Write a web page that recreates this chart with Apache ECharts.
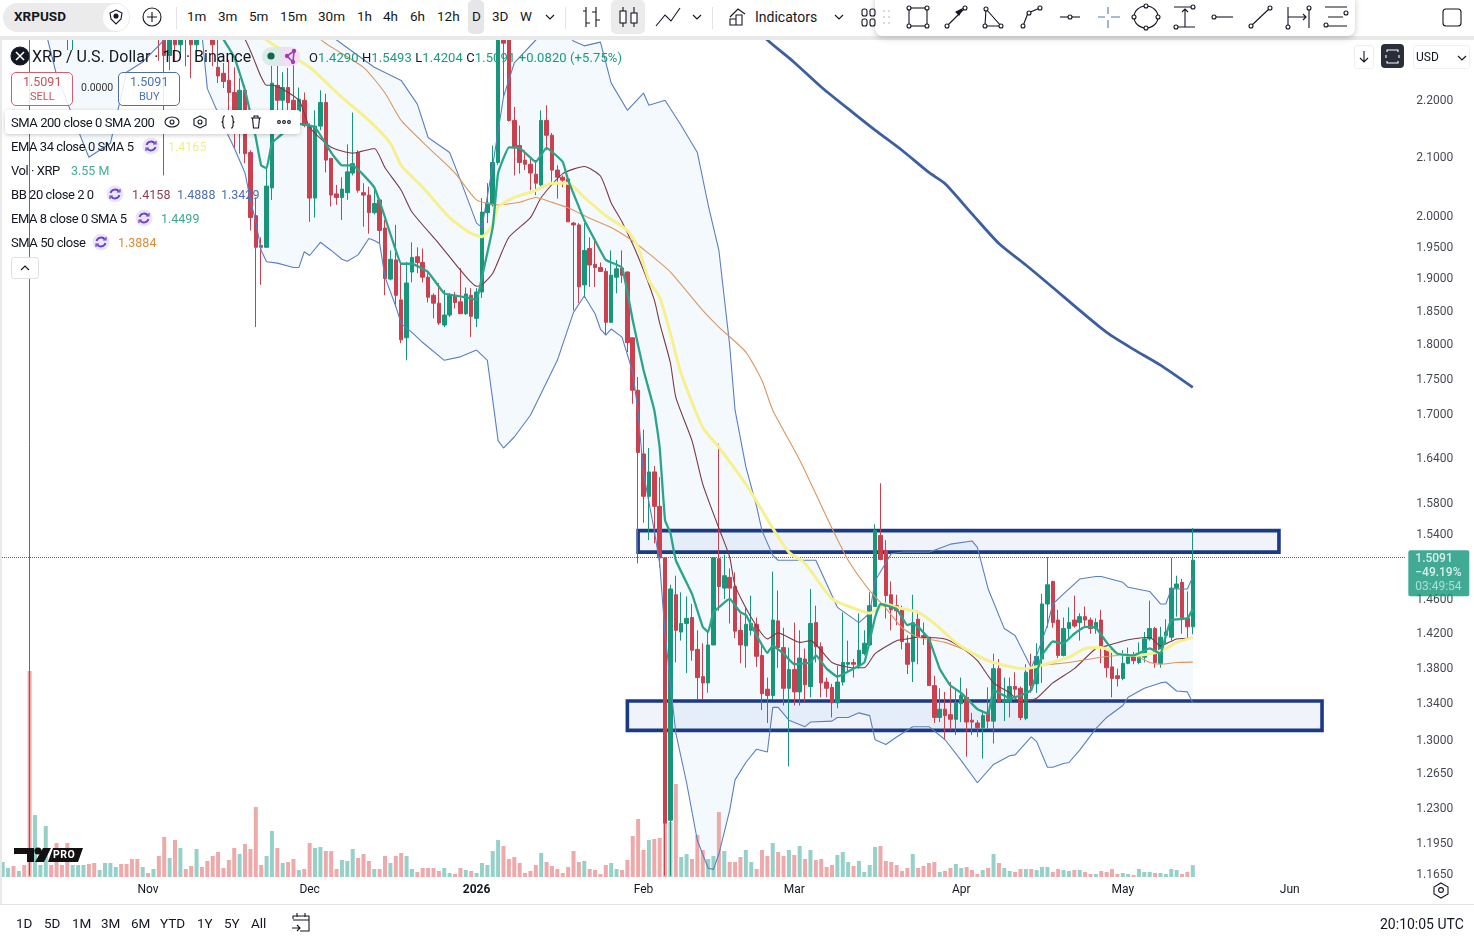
<!DOCTYPE html>
<html><head><meta charset="utf-8"><title>XRPUSD</title>
<script src="https://cdn.jsdelivr.net/npm/echarts@6/dist/echarts.min.js"></script>
<style>
html,body{margin:0;padding:0;background:#fff;overflow:hidden;font-family:Roboto,"Noto Sans",sans-serif;color:#131722}
#c{position:absolute;left:0;top:0;width:1474px;height:938px}
#ui{position:absolute;left:0;top:0;width:1474px;height:938px;pointer-events:none}
#ui div{position:absolute;box-sizing:border-box}
#ui .t{white-space:nowrap;transform:translateY(-50%);line-height:1}
#ui svg{position:absolute;left:0;top:0}
</style></head><body>
<div id="c"></div><div id="ui"></div>
<script>
// ---- data ----
const startDate = '2025-10-05';
const dayCount = 261;
// [open, high, low, close]
const ohlc = [
[2.96,3.05,2.93,3.02],[3.02,3.06,2.95,3.03],[3.03,3.05,2.86,2.90],[2.84,2.92,2.80,2.86],[2.86,2.90,2.78,2.80],[2.80,2.85,1.166,2.36],[2.38,2.54,2.34,2.50],[2.50,2.60,2.46,2.56],[2.43,2.60,2.40,2.55],[2.56,2.58,2.42,2.46],
[2.46,2.50,2.33,2.37],[2.37,2.40,2.33,2.35],[2.40,2.45,2.29,2.34],[2.34,2.46,2.29,2.40],[2.40,2.50,2.38,2.46],[2.46,2.52,2.40,2.50],[2.50,2.52,2.40,2.42],[2.42,2.46,2.36,2.40],[2.40,2.47,2.37,2.44],[2.44,2.55,2.42,2.50],
[2.50,2.64,2.48,2.60],[2.60,2.70,2.57,2.64],[2.64,2.68,2.58,2.62],[2.62,2.66,2.55,2.60],[2.60,2.66,2.50,2.57],[2.57,2.62,2.48,2.52],[2.52,2.58,2.48,2.54],[2.54,2.56,2.48,2.50],[2.50,2.54,2.44,2.52],[2.52,2.54,2.27,2.34],
[2.34,2.38,2.067,2.28],[2.28,2.36,2.253,2.33],[2.33,2.37,2.27,2.30],[2.30,2.46,2.285,2.42],[2.42,2.44,2.26,2.33],[2.33,2.40,2.238,2.30],[2.30,2.42,2.27,2.38],[2.38,2.40,2.32,2.33],[2.36,2.42,2.32,2.34],[2.34,2.36,2.26,2.30],
[2.258,2.33,2.229,2.242],[2.247,2.266,2.220,2.232],[2.234,2.272,2.180,2.212],[2.212,2.258,2.114,2.180],[2.148,2.238,2.104,2.216],[2.216,2.225,2.088,2.104],[2.106,2.110,1.976,1.997],[2.000,2.030,1.826,1.949],[1.952,1.965,1.890,1.949],[1.949,2.082,1.949,2.049],
[2.046,2.285,2.026,2.229],[2.225,2.266,2.180,2.198],[2.198,2.249,2.180,2.221],[2.221,2.257,2.180,2.194],[2.198,2.266,2.171,2.180],[2.178,2.221,2.157,2.200],[2.198,2.212,2.150,2.153],[2.153,2.157,1.990,2.029],[2.029,2.180,1.997,2.152],[2.152,2.216,2.145,2.194],
[2.194,2.210,2.072,2.093],[2.096,2.096,2.015,2.034],[2.036,2.051,2.018,2.030],[2.030,2.064,1.993,2.044],[2.038,2.120,2.026,2.073],[2.071,2.176,2.067,2.087],[2.106,2.110,2.038,2.042],[2.038,2.054,1.982,2.034],[2.034,2.048,1.971,2.005],[2.005,2.045,2.002,2.020],
[2.026,2.029,1.955,1.976],[1.980,1.993,1.874,1.900],[1.899,1.944,1.897,1.930],[1.929,1.985,1.856,1.874],[1.867,1.926,1.802,1.807],[1.810,1.926,1.777,1.893],[1.910,1.957,1.894,1.933],[1.934,1.949,1.908,1.925],[1.925,1.947,1.894,1.902],[1.902,1.908,1.863,1.871],
[1.874,1.877,1.839,1.862],[1.862,1.893,1.829,1.832],[1.829,1.882,1.826,1.844],[1.844,1.877,1.841,1.874],[1.874,1.879,1.854,1.863],[1.864,1.916,1.846,1.846],[1.846,1.886,1.844,1.876],[1.874,1.885,1.811,1.842],[1.839,1.885,1.826,1.879],[1.879,2.029,1.870,2.006],
[2.005,2.054,1.988,2.021],[2.018,2.118,2.015,2.089],[2.089,2.42,2.085,2.36],[2.36,2.42,2.202,2.303],[2.33,2.37,2.16,2.162],[2.162,2.186,2.067,2.114],[2.118,2.153,2.070,2.089],[2.093,2.110,2.076,2.086],[2.086,2.096,2.042,2.071],[2.069,2.093,2.034,2.054],
[2.051,2.180,2.048,2.162],[2.162,2.189,2.110,2.136],[2.136,2.140,2.055,2.076],[2.076,2.084,2.028,2.064],[2.064,2.067,2.047,2.059],[2.061,2.063,1.990,1.990],[1.988,1.990,1.851,1.985],[1.985,1.988,1.862,1.887],[1.890,1.988,1.870,1.944],[1.947,1.965,1.887,1.921],
[1.922,1.963,1.887,1.917],[1.917,1.925,1.910,1.911],[1.911,1.916,1.814,1.833],[1.833,1.944,1.832,1.905],[1.902,1.929,1.877,1.915],[1.916,1.944,1.893,1.905],[1.910,1.911,1.789,1.803],[1.810,1.810,1.715,1.734],[1.734,1.753,1.505,1.648],[1.646,1.679,1.556,1.590],
[1.590,1.654,1.534,1.622],[1.622,1.630,1.530,1.577],[1.577,1.615,1.500,1.512],[1.512,1.512,1.166,1.217],[1.220,1.479,1.166,1.474],[1.467,1.490,1.388,1.425],[1.423,1.470,1.413,1.433],[1.433,1.465,1.376,1.439],[1.440,1.456,1.390,1.402],[1.403,1.425,1.347,1.371],
[1.372,1.410,1.347,1.365],[1.365,1.425,1.354,1.408],[1.408,1.513,1.408,1.512],[1.511,1.660,1.448,1.477],[1.475,1.516,1.462,1.490],[1.488,1.499,1.433,1.475],[1.477,1.494,1.416,1.424],[1.425,1.444,1.387,1.408],[1.407,1.451,1.382,1.432],[1.425,1.466,1.419,1.433],
[1.432,1.440,1.383,1.395],[1.396,1.408,1.335,1.353],[1.358,1.371,1.321,1.351],[1.351,1.495,1.346,1.437],[1.436,1.472,1.382,1.405],[1.405,1.428,1.340,1.359],[1.359,1.405,1.275,1.380],[1.380,1.434,1.340,1.355],[1.355,1.425,1.340,1.393],[1.392,1.404,1.344,1.363],
[1.361,1.474,1.349,1.433],[1.434,1.454,1.388,1.406],[1.406,1.411,1.349,1.365],[1.366,1.371,1.349,1.359],[1.360,1.364,1.327,1.343],[1.343,1.384,1.337,1.366],[1.366,1.446,1.362,1.388],[1.386,1.413,1.376,1.388],[1.388,1.392,1.371,1.386],[1.384,1.445,1.381,1.402],
[1.398,1.425,1.396,1.410],[1.408,1.470,1.407,1.454],[1.453,1.554,1.453,1.546],[1.540,1.607,1.509,1.510],[1.521,1.534,1.439,1.466],[1.467,1.483,1.425,1.449],[1.454,1.467,1.431,1.448],[1.449,1.454,1.403,1.412],[1.410,1.419,1.375,1.386],[1.389,1.467,1.366,1.434],
[1.438,1.448,1.386,1.417],[1.419,1.434,1.408,1.417],[1.417,1.417,1.362,1.362],[1.362,1.373,1.321,1.327],[1.327,1.359,1.322,1.336],[1.336,1.355,1.303,1.329],[1.330,1.366,1.313,1.325],[1.325,1.359,1.308,1.343],[1.342,1.371,1.322,1.351],[1.349,1.359,1.285,1.322],
[1.324,1.332,1.308,1.322],[1.321,1.324,1.306,1.316],[1.316,1.335,1.283,1.329],[1.333,1.360,1.315,1.323],[1.323,1.398,1.299,1.381],[1.381,1.392,1.343,1.344],[1.344,1.371,1.323,1.346],[1.344,1.371,1.327,1.361],[1.361,1.377,1.349,1.358],[1.359,1.361,1.324,1.327],
[1.326,1.386,1.324,1.377],[1.381,1.398,1.354,1.362],[1.364,1.410,1.354,1.395],[1.392,1.468,1.365,1.456],[1.456,1.513,1.428,1.479],[1.483,1.484,1.428,1.434],[1.437,1.449,1.393,1.396],[1.396,1.440,1.395,1.427],[1.427,1.452,1.416,1.434],[1.437,1.466,1.428,1.430],
[1.434,1.445,1.413,1.441],[1.441,1.453,1.428,1.437],[1.437,1.440,1.421,1.427],[1.427,1.439,1.421,1.434],[1.437,1.449,1.387,1.404],[1.403,1.404,1.371,1.382],[1.383,1.404,1.349,1.370],[1.373,1.381,1.361,1.370],[1.370,1.402,1.368,1.387],[1.387,1.405,1.386,1.395],
[1.397,1.400,1.386,1.390],[1.388,1.411,1.386,1.398],[1.394,1.423,1.388,1.415],[1.415,1.460,1.413,1.427],[1.427,1.429,1.382,1.388],[1.387,1.429,1.382,1.417],[1.419,1.438,1.410,1.423],[1.417,1.512,1.413,1.475],[1.475,1.490,1.441,1.480],[1.482,1.486,1.421,1.439],
[1.439,1.471,1.415,1.429],[1.4290,1.5493,1.4204,1.5091]];
const volumes = [4.5,2.7,3.3,1.8,3.6,61.8,18.6,3.6,15.3,3.6,10.2,3.6,10.2,3.6,3.6,3.6,3.9,4.2,2.1,4.2,4.2,3,3.9,3.9,5.4,5.4,3,1.2,2.4,6.3,12,5.7,11.1,8.7,2.4,3.3,8.4,3,4.8,6.3,
7.5,2.7,5.1,8.7,6.9,9.9,8.4,21,3.6,6.3,13.8,8.7,4.2,4.5,5.4,2.1,2.4,10.2,8.7,9,7.8,7.8,2.4,5.1,4.8,8.4,5.7,6.9,4.8,2.4,2.4,6.3,4.2,6.3,7.2,6.3,2.4,1.5,2.7,2.7,
2.7,1.8,2.7,1.2,0.9,2.7,2.1,1.8,1.2,4.2,3.6,7.8,11.1,9.3,5.4,6,4.2,1.2,1.8,3.6,7.2,4.5,3.3,2.4,1.2,3,7.8,4.5,4.8,2.4,2.1,0.9,3.6,4.2,2.4,2.1,5.1,12.3,17.4,8.1,
11.1,11.4,11.7,15.9,16.5,27.9,6,6.9,5.4,12.6,8.1,5.4,6.3,19.5,7.8,4.5,4.5,6,8.1,4.5,2.4,8.1,6.3,10.2,7.5,6.3,8.1,6.6,9.3,5.4,8.1,5.1,5.4,3,3.6,6.6,7.5,4.5,3.3,4.8,
1.5,3.6,9,9.3,4.8,4.5,3.6,1.8,2.7,6.9,2.7,3.3,4.2,4.5,1.5,1.8,2.7,3.9,2.7,3,2.1,0.9,2.1,2.7,6.9,4.2,2.7,1.8,1.5,2.4,2.4,2.4,2.1,3,3,1.5,2.4,2.1,1.8,2.1,
2.1,1.5,0.9,0.9,1.8,1.5,2.4,0.9,1.2,0.9,0.6,2.4,1.5,1.5,1.2,1.2,0.9,2.4,2.1,0.9,1.5,3.55];
// indicators: [bar number, price]
const sma200 = [[138,2.35],[142,2.309],[147,2.267],[152,2.222],[158,2.175],[162,2.145],[167,2.110],[172,2.072],[175,2.053],[180,2.003],[185,1.955],[190,1.921],[195,1.886],[200,1.851],[205,1.818],[210,1.793],[215,1.770],[221,1.738]];
const ema8 = [[38,2.36],[41,2.31],[43,2.277],[45,2.216],[46,2.174],[47,2.132],[48,2.084],[49,2.079],[50,2.122],[52,2.139],[55,2.156],[58,2.150],[61,2.106],[63,2.084],[65,2.084],[69,2.047],[71,1.997],[73,1.944],[74,1.923],[76,1.923],[79,1.910],[82,1.877],[86,1.871],[88,1.867],[89,1.902],[91,1.981],[92,2.071],[94,2.115],[96,2.114],[99,2.090],[101,2.114],[104,2.090],[105,2.059],[108,1.993],[110,1.960],[112,1.929],[115,1.917],[117,1.836],[119,1.763],[121,1.706],[122,1.655],[123,1.559],[124,1.543],[125,1.509],[128,1.468],[130,1.429],[131,1.423],[132,1.446],[135,1.462],[137,1.446],[138,1.443],[140,1.419],[142,1.399],[143,1.407],[145,1.398],[147,1.386],[150,1.388],[151,1.396],[153,1.381],[155,1.372],[158,1.381],[160,1.388],[161,1.413],[162,1.440],[163,1.456],[166,1.450],[168,1.431],[169,1.433],[170,1.429],[172,1.415],[174,1.381],[176,1.362],[178,1.354],[181,1.336],[183,1.331],[184,1.357],[187,1.348],[189,1.351],[191,1.357],[193,1.396],[195,1.412],[197,1.410],[199,1.421],[201,1.429],[203,1.428],[205,1.411],[207,1.398],[210,1.396],[213,1.404],[215,1.398],[216,1.419],[217,1.437],[220,1.439],[221,1.4499]];
const ema34 = [[46,2.34],[49,2.309],[57,2.258],[63,2.203],[68,2.162],[72,2.122],[74,2.084],[78,2.047],[83,1.997],[87,1.971],[89,1.966],[91,1.985],[92,2.014],[95,2.030],[99,2.042],[102,2.054],[105,2.054],[108,2.030],[112,2.000],[116,1.976],[118,1.949],[120,1.897],[122,1.871],[124,1.816],[126,1.758],[130,1.682],[133,1.655],[138,1.606],[141,1.572],[143,1.549],[146,1.519],[149,1.505],[154,1.462],[158,1.451],[161,1.445],[164,1.456],[166,1.452],[170,1.446],[173,1.433],[177,1.411],[180,1.399],[183,1.390],[188,1.382],[190,1.381],[193,1.385],[198,1.394],[201,1.404],[204,1.405],[207,1.398],[210,1.396],[214,1.399],[216,1.404],[218,1.411],[221,1.4165]];
const sma50 = [[50,2.42],[59,2.31],[67,2.258],[71,2.211],[74,2.162],[79,2.115],[84,2.071],[88,2.026],[92,2.018],[96,2.022],[99,2.030],[102,2.022],[105,2.013],[109,1.996],[113,1.981],[116,1.965],[120,1.939],[124,1.910],[130,1.851],[133,1.826],[138,1.789],[141,1.748],[143,1.706],[148,1.638],[154,1.549],[157,1.509],[161,1.472],[164,1.451],[167,1.428],[170,1.417],[175,1.411],[180,1.399],[184,1.388],[189,1.381],[193,1.385],[198,1.388],[204,1.394],[207,1.396],[210,1.396],[213,1.388],[215,1.386],[218,1.388],[221,1.3884]];
const bbBasis = [[38,2.40],[45,2.31],[48,2.240],[49,2.225],[50,2.225],[55,2.198],[57,2.150],[61,2.115],[65,2.105],[69,2.113],[71,2.080],[74,2.042],[76,2.006],[81,1.955],[85,1.913],[88,1.888],[89,1.890],[91,1.908],[94,1.965],[98,1.997],[100,2.030],[104,2.070],[108,2.082],[111,2.066],[113,2.021],[115,1.990],[118,1.934],[121,1.867],[122,1.832],[124,1.773],[125,1.724],[128,1.664],[130,1.606],[133,1.549],[135,1.513],[136,1.478],[139,1.440],[142,1.415],[144,1.422],[148,1.411],[150,1.413],[154,1.388],[158,1.382],[160,1.382],[162,1.398],[166,1.413],[168,1.415],[170,1.417],[175,1.415],[178,1.405],[181,1.390],[184,1.365],[187,1.354],[189,1.344],[192,1.348],[195,1.365],[199,1.381],[203,1.404],[205,1.407],[209,1.414],[213,1.417],[215,1.407],[218,1.415],[221,1.4158]];
const bbUpper = [[0,3.3],[40,3.0],[62,2.309],[69,2.258],[74,2.234],[77,2.191],[79,2.132],[83,2.106],[85,2.059],[88,1.988],[89,1.981],[91,2.084],[93,2.204],[95,2.266],[99,2.309],[101,2.34],[104,2.33],[106,2.307],[108,2.298],[111,2.305],[113,2.229],[116,2.180],[119,2.211],[120,2.189],[123,2.198],[126,2.153],[129,2.106],[131,2.018],[133,1.944],[135,1.799],[136,1.706],[138,1.629],[140,1.577],[141,1.546],[143,1.515],[144,1.509],[151,1.509],[155,1.452],[159,1.434],[161,1.445],[162,1.484],[165,1.517],[167,1.519],[172,1.519],[176,1.529],[180,1.533],[181,1.525],[183,1.474],[186,1.427],[188,1.419],[191,1.382],[192,1.396],[194,1.431],[195,1.456],[197,1.468],[200,1.486],[203,1.489],[204,1.489],[208,1.482],[209,1.476],[213,1.471],[215,1.456],[216,1.456],[217,1.474],[220,1.474],[221,1.4888]];
const bbLower = [[0,2.8],[5,2.45],[10,2.244],[14,2.145],[16,2.098],[20,2.122],[23,2.249],[26,2.268],[30,2.309],[33,2.34],[37,2.32],[38,2.219],[41,2.153],[43,2.114],[45,2.071],[46,2.026],[47,1.990],[48,1.944],[49,1.926],[51,1.924],[54,1.917],[55,1.917],[56,1.942],[57,1.936],[59,1.957],[61,1.944],[63,1.930],[64,1.927],[66,1.937],[68,1.963],[69,1.960],[70,1.955],[71,1.902],[73,1.857],[74,1.831],[76,1.818],[78,1.803],[82,1.777],[85,1.782],[88,1.792],[90,1.777],[91,1.720],[92,1.664],[93,1.654],[95,1.669],[98,1.699],[103,1.777],[106,1.848],[108,1.873],[110,1.846],[111,1.823],[112,1.814],[113,1.823],[115,1.811],[117,1.760],[118,1.703],[119,1.620],[121,1.546],[122,1.505],[123,1.421],[125,1.310],[127,1.258],[129,1.200],[131,1.173],[132,1.172],[133,1.187],[135,1.230],[136,1.261],[138,1.279],[140,1.293],[142,1.290],[143,1.338],[144,1.338],[146,1.324],[149,1.317],[150,1.322],[154,1.323],[155,1.327],[157,1.327],[159,1.332],[161,1.329],[162,1.303],[164,1.298],[166,1.306],[169,1.317],[172,1.317],[175,1.303],[178,1.281],[181,1.258],[184,1.277],[187,1.286],[188,1.287],[191,1.306],[192,1.301],[194,1.274],[195,1.274],[197,1.278],[198,1.279],[200,1.292],[203,1.315],[205,1.327],[208,1.340],[209,1.349],[212,1.359],[215,1.365],[216,1.366],[218,1.356],[220,1.355],[221,1.3429]];
// support / resistance boxes: [from bar, to bar, top price, bottom price]
const zones = [[118,237,1.546,1.519],[116,245,1.345,1.313]];
const priceTicks = [2.2,2.1,2.0,1.95,1.9,1.85,1.8,1.75,1.7,1.64,1.58,1.54,1.46,1.42,1.38,1.34,1.3,1.265,1.23,1.195,1.165];
const lastPrice = 1.5091;
const priceTag = ['1.5091','\u221249.19%','03:49:54'];
const monthLabels = {27:'Nov',57:'Dec',88:'2026',119:'Feb',147:'Mar',178:'Apr',208:'May',239:'Jun'};

// ---- chart ----
const categories = [];
{ const d0 = new Date(startDate + 'T00:00:00Z');
  for (let k = 0; k < dayCount; k++) categories.push(new Date(d0.getTime() + k * 864e5).toISOString().slice(0, 10)); }
const UP = '#17967b', DOWN = '#c9414f', VUP = '#95d1c9', VDOWN = '#eeaaaa';
const chart = echarts.init(document.getElementById('c'), null, {renderer: 'canvas'});
const plotW = 1405.5;
const lineS = (name, data, color, width, z, smooth) => ({name, type: 'line', data, xAxisIndex: 0, yAxisIndex: 0, symbol: 'none', silent: true, z, animation: false,
  lineStyle: {color, width}, clip: true, smooth: smooth || false});
chart.setOption({
  animation: false, backgroundColor: '#fff',
  grid: [
    {left: 0, top: 40, width: plotW, height: 837},
    {left: 0, top: 667, width: plotW, height: 210}
  ],
  xAxis: [
    {type: 'category', data: categories, gridIndex: 0, axisLine: {show: false}, axisTick: {show: false}, splitLine: {show: false},
     axisLabel: {color: '#131722', fontSize: 12, fontFamily: 'Roboto', margin: 7, hideOverlap: false,
       interval: (idx) => monthLabels[idx] !== undefined,
       formatter: (v, idx) => monthLabels[idx] === '2026' ? '{b|2026}' : (monthLabels[idx] || ''),
       rich: {b: {fontWeight: 'bold', fontSize: 12, color: '#131722', fontFamily: 'Roboto'}}}},
    {type: 'category', data: categories, gridIndex: 1, show: false}
  ],
  yAxis: [
    {type: 'log', logBase: 10, gridIndex: 0, min: 1.1647, max: 2.309, show: false, splitLine: {show: false}},
    {type: 'value', gridIndex: 1, min: 0, max: 63, show: false, splitLine: {show: false}},
    {type: 'log', logBase: 10, gridIndex: 0, min: 1.1609, max: 2.3094, show: false, splitLine: {show: false}}
  ],
  series: [
    {type: 'custom', name: 'BB fill', xAxisIndex: 0, yAxisIndex: 0, z: 1, silent: true, clip: true, data: [[0, 1.5]], encode: {x: 0, y: 1},
     renderItem: (p, api) => {
       const pts = bbUpper.concat(bbLower.slice().reverse()).map(v => api.coord(v));
       return {type: 'polygon', shape: {points: pts}, style: {fill: 'rgba(33,130,233,0.05)'}};
     }},
    {type: 'bar', name: 'Vol', xAxisIndex: 1, yAxisIndex: 1, z: 2, barWidth: 4, silent: true,
     data: volumes.map((v, k) => ({value: v, itemStyle: {color: ohlc[k][3] >= ohlc[k][0] ? VUP : VDOWN}}))},
    {type: 'custom', name: 'Zones', xAxisIndex: 0, yAxisIndex: 0, z: 3, silent: true, data: zones, encode: {x: [0, 1], y: [2, 3]},
     renderItem: (p, api) => {
       const a = api.coord([api.value(0), api.value(2)]), b = api.coord([api.value(1), api.value(3)]);
       return {type: 'rect', shape: {x: a[0], y: a[1], width: b[0] - a[0], height: b[1] - a[1]},
         style: {fill: 'rgba(60,100,190,0.08)', stroke: '#1b3a85', lineWidth: 3.6}};
     }},
    {type: 'candlestick', name: 'XRPUSD', xAxisIndex: 0, yAxisIndex: 0, z: 4, barWidth: 4, silent: true, clip: true,
     data: ohlc.map(b => [b[0], b[3], b[2], b[1]]),
     itemStyle: {color: UP, color0: DOWN, borderColor: UP, borderColor0: DOWN, borderWidth: 1}},
    lineS('BB basis', bbBasis, '#7a3a44', 1.1, 5, 0.2),
    lineS('BB upper', bbUpper, '#5b7fbe', 1.1, 5),
    lineS('BB lower', bbLower, '#5b7fbe', 1.1, 5),
    lineS('SMA 50', sma50, '#d9975f', 1.1, 5, 0.2),
    lineS('EMA 34', ema34, '#f7f08f', 3, 5, 0.2),
    lineS('EMA 8', ema8, '#2ba48c', 2.3, 6, 0.1),
    lineS('SMA 200', sma200, '#3c5f9f', 2.8, 6, 0.25),
    {type: 'scatter', name: 'Price scale', xAxisIndex: 0, yAxisIndex: 2, z: 7, silent: true, symbolSize: 1, itemStyle: {color: 'rgba(0,0,0,0)'},
     data: priceTicks.map(v => [dayCount - 1, v]),
     label: {show: true, position: 'right', distance: 13, offset: [0, 2], color: '#131722', fontSize: 12, fontFamily: 'Roboto', formatter: q => q.value[1].toFixed(4)}},
    {type: 'scatter', name: 'Last price', xAxisIndex: 0, yAxisIndex: 2, z: 8, silent: true, symbolSize: 1, itemStyle: {color: 'rgba(0,0,0,0)'},
     data: [[dayCount - 1, lastPrice]],
     markLine: {silent: true, symbol: 'none', animation: false, label: {show: false}, lineStyle: {color: '#3f7d6e', type: 'dotted', width: 1}, data: [{yAxis: lastPrice}]},
     label: {show: true, position: [6, -7], formatter: '{a|' + priceTag[0] + '}\n{a|' + priceTag[1] + '}\n{c|' + priceTag[2] + '}',
       backgroundColor: '#12957b', padding: [2, 4, 2, 7], width: 50, borderRadius: 2,
       rich: {a: {color: '#fff', fontSize: 12, lineHeight: 14, fontFamily: 'Roboto', fontWeight: 500}, c: {color: '#c4ece2', fontSize: 12, lineHeight: 14, fontFamily: 'Roboto'}}}}
  ]
});

// ---- surrounding interface ----
const ui = document.getElementById('ui');
let html = '';
const box = (x, y, w, h, css) => { html += `<div style="left:${x}px;top:${y}px;width:${w}px;height:${h}px;${css||''}"></div>`; };
const T = (s, x, y, size, color, css) => { html += `<div class="t" style="left:${x}px;top:${y}px;font-size:${size}px;color:${color||'#131722'};${css||''}">${s}</div>`; };
const L = 'letter-spacing:-.44px';
// bars
box(0, 0, 1474, 37, 'background:#fff');
box(0, 36, 1474, 4, 'background:#e9e9ea');
box(0, 40, 2, 898, 'background:#e9e9ea');
box(1410, 878, 64, 4, 'background:#fff');
box(0, 904, 1474, 1, 'background:#e4e4e6');
box(0, 905, 1474, 33, 'background:#fff');
box(3, 3, 127, 29, 'background:#ebebeb;border-radius:15px');
box(103, 4, 26, 27, 'background:#fff;border-radius:14px');
box(468, 0, 16, 34, 'background:#e6e6e8;border-radius:5px');
box(611, 0, 34, 34, 'background:#ebebeb;border-radius:5px');
box(176, 7, 1, 22, 'background:#e4e4e6');box(565, 7, 1, 22, 'background:#e4e4e6');box(712, 7, 1, 22, 'background:#e4e4e6');
box(875, -6, 480, 42, 'background:#fff;border-radius:8px;box-shadow:0 2px 6px rgba(0,0,0,.22)');
T('XRPUSD', 14, 17, 13.5, '#131722', 'font-weight:700');
[['1m',187],['3m',218],['5m',249],['15m',280],['30m',318],['1h',357],['4h',383],['6h',410],['12h',437],['D',472],['3D',492],['W',520]].forEach(a => T(a[0], a[1], 17, 13.5));
T('Indicators', 755, 17, 14);
// legend
T('XRP / U.S. Dollar \u00b7 1D \u00b7 Binance', 32, 57, 16);
box(262, 47, 19, 19, 'background:#d9ece8;border-radius:10px 0 0 10px');box(281, 47, 19, 19, 'background:#f1def3;border-radius:0 10px 10px 0');
const V = '#1c9a80';
html += `<div class="t" style="left:309px;top:57px;font-size:13px;letter-spacing:.1px;color:#131722">O<span style="color:${V}">1.4290</span> H<span style="color:${V}">1.5493</span> L<span style="color:${V}">1.4204</span> C<span style="color:${V}">1.5091</span> <span style="color:${V}">+0.0820 (+5.75%)</span></div>`;
box(11, 72, 62, 34, 'background:rgba(255,255,255,.85);border:1px solid #d2606c;border-radius:5px');
box(118, 72, 62, 34, 'background:rgba(255,255,255,.85);border:1px solid #4f6f9f;border-radius:5px');
T('1.5091', 23, 82, 12.5, '#c9505c');T('SELL', 30, 96, 11, '#c9505c');
T('0.0000', 81, 88, 10.5, '#333');
T('1.5091', 130, 82, 12.5, '#4b72ae');T('BUY', 139, 96, 11, '#4b72ae');
box(5, 110, 295, 24, 'background:#fff;border-radius:3px;box-shadow:0 1px 4px rgba(0,0,0,.22)');
T('SMA 200 close 0 SMA 200', 11, 122, 13, '#131722', L);
T('EMA 34 close 0 SMA 5', 11, 146, 13, '#131722', L);
T('1.4165', 168, 147, 12.5, '#f3ee8c');
T('Vol \u00b7 XRP', 11, 170, 13, '#131722', L);T('3.55 M', 71, 171, 12.5, '#45ac99');
T('BB 20 close 2 0', 11, 194, 13, '#131722', L);
T('1.4158', 132, 195, 12.5, '#8a3f49');T('1.4888', 177, 195, 12.5, '#4f6fb5');T('1.3429', 221, 195, 12.5, '#4f6fb5');
T('EMA 8 close 0 SMA 5', 11, 218, 13, '#131722', L);T('1.4499', 161, 219, 12.5, '#3aa98f');
T('SMA 50 close', 11, 242, 13, '#131722', L);T('1.3884', 118, 243, 12.5, '#e08b34');
box(11, 257, 28, 22, 'background:#fff;border:1px solid #e0e0e3;border-radius:3px');
// right buttons
box(1354, 45, 20, 24, 'background:#fff;border:1px solid #eee;border-radius:3px');
box(1381, 44, 23, 24, 'background:#2a2e39;border-radius:4px');
box(1413, 45, 57, 24, 'background:#fff;border:1px solid #f0f0f0;border-radius:3px');
T('USD', 1416, 57, 12);
T('20:10:05 UTC', 1380, 924, 14);
[['1D',16],['5D',44],['1M',72],['3M',101],['6M',131],['YTD',160],['1Y',197],['5Y',224],['All',251]].forEach(a => T(a[0], a[1], 924, 13.5));
// logo
T('PRO', 53, 855, 10.5, '#fff', 'font-weight:700;z-index:3;letter-spacing:.5px');
// icons
const c = (x, y, r) => `<circle cx="${x}" cy="${y}" r="${r||2}" fill="#fff"/>`;
const ref = (x, y) => `<circle cx="${x}" cy="${y}" r="8.5" fill="#ebe5fa" stroke="none"/><path d="M${x-4.5} ${y-1}A4.8 4.8 0 0 1 ${x+4} ${y-2.5}M${x+4.5} ${y+1}A4.8 4.8 0 0 1 ${x-4} ${y+2.5}" stroke="#6a3fc8" stroke-width="1.8" fill="none"/><path d="M${x+5} ${y-5}v3h-3M${x-5} ${y+5}v-3h3" stroke="#6a3fc8" stroke-width="1.2" fill="none"/>`;
const chev = (x, y) => `<path d="M${x-4} ${y-2}l4 4l4-4" />`;
let s = '<svg width="1474" height="938" fill="none" stroke="#131722" stroke-width="1.1">';
s += '<path d="M116 10l6 3l-1 6l-5 5l-5-5l-1-6z"/><circle cx="116" cy="16" r="2" fill="#131722"/>';
s += '<circle cx="152" cy="17" r="9"/><path d="M152 12v10M147 17h10"/>';
s += chev(550, 17) + chev(697, 17) + chev(839, 17);
s += '<path d="M586 7v20M596 7v20M586 11h-3M586 23h4M596 12h-4M596 20h4"/>';
s += '<path d="M623 7v20M634 7v20"/><rect x="620" y="11" width="6" height="12" fill="#fff"/><rect x="631" y="13" width="6" height="10" fill="#fff"/>';
s += '<path d="M656 26l9-11l6 6l9-13"/>';
s += '<path d="M730 25v-6h6v6zM736 25v-10h6v10zM730 17l8-8l7 5"/>';
s += '<rect x="862" y="9" width="5" height="7" rx="2"/><rect x="862" y="19" width="5" height="7" rx="2"/><rect x="870" y="9" width="5" height="7" rx="2"/><rect x="870" y="19" width="5" height="7" rx="2"/>';
s += '<g fill="#cfcfd2" stroke="none"><circle cx="884" cy="11" r="1"/><circle cx="889" cy="11" r="1"/><circle cx="884" cy="17" r="1"/><circle cx="889" cy="17" r="1"/><circle cx="884" cy="23" r="1"/><circle cx="889" cy="23" r="1"/></g>';
s += '<rect x="909" y="8" width="18" height="18"/>' + c(909, 8) + c(927, 8) + c(909, 26) + c(927, 26);
s += '<path d="M947 26L964 9"/><path d="M956 12l6-3l-3 6z" fill="#131722"/>' + c(947, 26) + c(965, 8);
s += '<path d="M986 9l-1 17h16z"/>' + c(986, 9) + c(985, 26) + c(1001, 26);
s += '<path d="M1023 26l5-13l12-5"/>' + c(1023, 26) + c(1029, 13) + c(1040, 8);
s += '<path d="M1060 17h20"/>' + c(1070, 17);
s += '<path d="M1098 17h7M1111 17h9M1108 7v7M1108 20v8" stroke="#4f7aa8"/>';
s += '<ellipse cx="1146" cy="17" rx="12" ry="11"/>' + c(1134, 17) + c(1158, 17) + c(1146, 6) + c(1146, 28);
s += '<path d="M1174 7h18M1177 27h18M1185 27V9M1182 12l3-3l3 3"/>' + c(1193, 7) + c(1176, 27);
s += '<path d="M1216 17h17"/>' + c(1214, 17);
s += '<path d="M1251 26L1270 8"/>' + c(1251, 26) + c(1270, 8);
s += '<path d="M1288 7v20M1309 10v18M1288 17h18M1303 14l3 3l-3 3"/>' + c(1309, 8) + c(1288, 27);
s += '<path d="M1325 7h22M1328 17h15M1328 26h19"/>' + c(1346, 13) + c(1326, 25);
s += '<rect x="1443" y="9" width="18" height="17" rx="3"/>';
// legend icons
s += '<ellipse cx="172" cy="122" rx="7" ry="5"/><circle cx="172" cy="122" r="2"/>';
s += '<path d="M200 116l6 3v6l-6 3l-6-3v-6z"/><circle cx="200" cy="122" r="2"/>';
s += '<path d="M225 116h-1l-1 2v3l-1 1l1 1v3l1 2h1M231 116h1l1 2v3l1 1l-1 1v3l-1 2h-1"/>';
s += '<path d="M251 118h10M254 118v-2h4v2M252.5 118l1 10h5l1-10"/>';
s += '<circle cx="279" cy="122" r="1.4"/><circle cx="284" cy="122" r="1.4"/><circle cx="289" cy="122" r="1.4"/>';
s += ref(151, 146) + ref(115, 194) + ref(144, 218) + ref(101, 242);
s += '<path d="M21 270l4-4l4 4"/>';
// X logo, dots
s += '<circle cx="20" cy="56" r="9" fill="#131722"/><path d="M16 52l8 8M24 52l-8 8" stroke="#fff" stroke-width="1.6"/>';
s += '<circle cx="271" cy="56" r="3.6" fill="#12654f" stroke="none"/>';
s += '<path d="M294 51l-7 5l6 6z" stroke="#9c3fb0" stroke-width="1.6"/><circle cx="294" cy="51" r="1.6" fill="#9c3fb0" stroke="#9c3fb0"/><circle cx="287" cy="56" r="1.6" fill="#9c3fb0" stroke="#9c3fb0"/><circle cx="293" cy="62" r="1.6" fill="#9c3fb0" stroke="#9c3fb0"/>';
// right buttons
s += '<path d="M1364 51v11M1360 58l4 4l4-4"/>';
s += '<path d="M1387 52v-2h11v2M1387 61v2h11v-2" stroke="#fff"/><path d="M1386 55v3M1399 55v3" stroke="#fff"/>';
s += chev(1462, 58);
// calendar, settings
s += '<path d="M293 919v-3h16v15h-9M293 920h16M297 913v4M305 913v4M292 928h8M297 925l3 3l-3 3"/>';
s += '<path d="M1441 883l7 4v7l-7 4l-7-4v-7z"/><circle cx="1441" cy="890" r="2.4"/>';
// TV logo
s += '<g fill="#111" stroke="none"><path d="M14 848h20v14h-7v-8h-13z"/><circle cx="38" cy="851" r="3.6"/><path d="M43 848h8l-7 14h-9z"/><path d="M53 848h30l-5 14h-30z"/></g>';
s += '</svg>';
ui.innerHTML = html + s;
</script>
</body></html>
